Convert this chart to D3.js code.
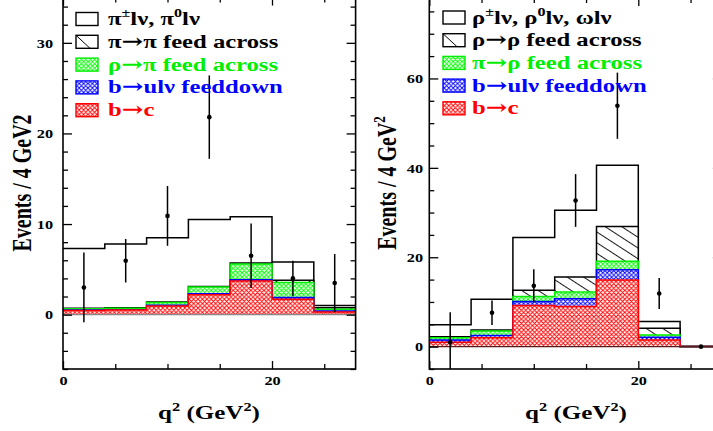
<!DOCTYPE html>
<html><head><meta charset="utf-8">
<script src="https://cdn.jsdelivr.net/npm/d3@7"></script>
<style>
html,body{margin:0;padding:0;background:#fff;}
svg{display:block;}
</style>
</head><body>
<svg id="chart" width="713" height="431"></svg>
<script>
// ---------- DATA ----------
const binEdges = [0, 4, 8, 12, 16, 20, 24, 28];
const binCenters = [2, 6, 10, 14, 18, 22, 26];
const layerKeys = ["bc", "bu", "cross", "feed", "signal"];

// Left panel (pi)
const leftBtoC      = [0.45, 0.5, 0.95, 2.2, 3.7, 1.7, 0.3];
const leftBtoU      = [0.05, 0.05, 0.1, 0.1, 0.15, 0.2, 0.1];
const leftRhoToPi   = [0.15, 0.15, 0.3, 0.75, 1.75, 1.65, 0.2];
const leftPiToPi    = [0.05, 0.05, 0.05, 0.05, 0.1, 0.25, 0.15];
const leftSignal    = [6.6, 7.05, 7.1, 7.4, 5.1, 2.0, 0.25];
const leftData      = [3.0, 5.95, 10.9, 21.8, 6.5, 4.0, 3.5];
const leftErr       = [3.85, 2.4, 3.3, 4.6, 3.55, 1.95, 3.2];
const leftYMajor    = [0, 10, 20, 30];
const leftYMinor    = [-6, -4, -2, 2, 4, 6, 8, 12, 14, 16, 18, 22, 24, 26, 28, 32, 34];

// Right panel (rho)
const rightBtoC     = [1.0, 2.0, 9.2, 9.0, 14.9, 1.5, 0.05];
const rightBtoU     = [0.5, 0.5, 0.9, 1.7, 2.3, 0.6, 0.0];
const rightPiToRho  = [0.5, 1.0, 1.1, 1.5, 1.9, 0.5, 0.0];
const rightRhoToRho = [0.2, 0.2, 1.4, 3.4, 7.8, 1.5, 0.0];
const rightSignal   = [2.7, 6.9, 11.8, 14.9, 13.7, 1.5, 0.0];
const rightData     = [1.0, 7.6, 13.6, 32.7, 53.9, 11.9, 0.0];
const rightErr      = [6.7, 2.75, 3.7, 5.9, 7.4, 3.45, 0.0];
const rightYMajor   = [0, 20, 40, 60];
const rightYMinor   = [-5, 5, 10, 15, 25, 30, 35, 45, 50, 55, 65, 70, 75];

const xMajor = [0, 20];
const xMinor = [5, 10, 15, 25];

const leftLegend = [
  [["π"], ["±", 1], ["lν, π"], ["0", 1], ["lν"]],
  [["π→π feed across"]],
  [["ρ→π feed across"]],
  [["b→ulν feeddown"]],
  [["b→c"]]
];
const rightLegend = [
  [["ρ"], ["±", 1], ["lν, ρ"], ["0", 1], ["lν, ωlν"]],
  [["ρ→ρ feed across"]],
  [["π→ρ feed across"]],
  [["b→ulν feeddown"]],
  [["b→c"]]
];

// ---------- STYLE ----------
const FONT = "'Liberation Serif','Times New Roman',serif";
const ARROW_FONT = "'DejaVu Serif',serif";
const SX = 1.32;
const layerFill = {bc: "url(#hRed)", bu: "url(#hBlue)", cross: "url(#hGreen)", feed: "url(#hFeed)", signal: "#ffffff"};
const layerStroke = {bc: "#ff0000", bu: "#0000ff", cross: "#00ee00", feed: "#000000", signal: "#000000"};
const legendOrder = ["signal", "feed", "cross", "bu", "bc"];
const legendColor = {signal: "#000", feed: "#000", cross: "#00ee00", bu: "#0000ff", bc: "#ff0000"};

const svg = d3.select("#chart");
const defs = svg.append("defs");

function crossHatch(id, color) {
  const p = defs.append("pattern").attr("id", id).attr("patternUnits", "userSpaceOnUse")
    .attr("width", 4.4).attr("height", 4.4);
  p.append("rect").attr("width", 4.4).attr("height", 4.4).attr("fill", "#fff");
  p.append("path").attr("d", "M0,0L4.4,4.4M4.4,0L0,4.4M-1,1.1L1.1,-1M3.3,5.4L5.4,3.3M-1,3.3L1.1,5.4M3.3,-1L5.4,1.1")
    .attr("stroke", color).attr("stroke-width", 1.0).attr("fill", "none");
}
crossHatch("hRed", "#ff0000");
crossHatch("hBlue", "#0000ff");
crossHatch("hGreen", "#00ff00");
{
  const p = defs.append("pattern").attr("id", "hFeed").attr("patternUnits", "userSpaceOnUse")
    .attr("width", 20).attr("height", 9).attr("patternTransform", "rotate(33)");
  p.append("rect").attr("width", 20).attr("height", 9).attr("fill", "#fff");
  p.append("line").attr("x1", 0).attr("x2", 20).attr("y1", 4.5).attr("y2", 4.5)
    .attr("stroke", "#000").attr("stroke-width", 0.9);
}

function addText(parent, str, opt) {
  const t = parent.append("text")
    .attr("font-family", FONT).attr("font-weight", "bold")
    .attr("font-size", opt.size).attr("fill", opt.color || "#000")
    .attr("text-anchor", opt.anchor || "start")
    .attr("transform", `translate(${opt.x},${opt.y}) scale(${opt.sx || SX},1)` + (opt.rot ? ` rotate(${opt.rot})` : ""));
  const parts = Array.isArray(str) ? str : [[str]];
  let up = false;
  parts.forEach(([s, sup]) => {
    if (sup) {
      const ts = t.append("tspan").text(s).attr("font-size", opt.size * 0.65);
      if (!up) { ts.attr("dy", -opt.size * 0.4); up = true; }
      return;
    }
    const pieces = s.split(/(→)/).filter(p => p.length);
    pieces.forEach((p, k) => {
      const ts = t.append("tspan").text(p);
      if (p === "→") ts.attr("font-family", ARROW_FONT).attr("font-size", opt.size * 1.05);
      if (k === 0 && up) { ts.attr("dy", opt.size * 0.4); up = false; }
    });
  });
  return t;
}

function panel(cfg) {
  const g = svg.append("g");
  const x = d3.scaleLinear().domain([0, 28]).range([cfg.x0, cfg.x0 + 28 * 10.45]);
  const y = d3.scaleLinear().domain(cfg.yDom).range([369, cfg.yTop]);
  const [xa, xb] = x.range();
  const clipId = "clip" + cfg.id;
  defs.append("clipPath").attr("id", clipId).append("rect")
    .attr("x", xa).attr("y", cfg.yTop).attr("width", xb - xa).attr("height", 369 - cfg.yTop);
  const plot = g.append("g").attr("clip-path", `url(#${clipId})`);

  const rows = binCenters.map((c, i) => ({
    bc: cfg.bc[i], bu: cfg.bu[i], cross: cfg.cross[i], feed: cfg.feed[i], signal: cfg.signal[i]
  }));
  const stacked = d3.stack().keys(layerKeys)(rows);
  const area = d3.area().curve(d3.curveStepAfter).x(d => x(d[0])).y0(y(0)).y1(d => y(d[1]));
  const line = d3.line().curve(d3.curveStepAfter).x(d => x(d[0])).y(d => y(d[1]));
  stacked.slice().reverse().forEach(layer => {
    const tops = layer.map(d => d[1]);
    const pts = binEdges.map((e, i) => [e, tops[Math.min(i, tops.length - 1)]]);
    plot.append("path").attr("d", area(pts)).attr("fill", layerFill[layer.key]).attr("stroke", "none");
    plot.append("path").attr("d", line(pts)).attr("fill", "none")
      .attr("stroke", layerStroke[layer.key]).attr("stroke-width", 1.5);
  });
  // zero line
  plot.append("line").attr("x1", xa).attr("x2", xb).attr("y1", y(0)).attr("y2", y(0))
    .attr("stroke", cfg.zeroColor).attr("stroke-width", 1.3);

  // data points
  binCenters.forEach((c, i) => {
    const v = cfg.data[i], e = cfg.err[i];
    if (e > 0) plot.append("line").attr("x1", x(c)).attr("x2", x(c)).attr("y1", y(v - e)).attr("y2", y(v + e))
      .attr("stroke", "#000").attr("stroke-width", 1.5);
    plot.append("circle").attr("cx", x(c)).attr("cy", y(v)).attr("r", 2.3).attr("fill", "#000");
  });

  // axes
  const clean = a => { a.select(".domain").remove(); a.selectAll("line").attr("stroke", "#000").attr("stroke-width", 1.3); };
  g.append("g").attr("transform", `translate(${xa},0)`).call(d3.axisRight(y).tickValues(cfg.yMajor).tickSize(9).tickFormat("")).call(clean);
  g.append("g").attr("transform", `translate(${xa},0)`).call(d3.axisRight(y).tickValues(cfg.yMinor).tickSize(5).tickFormat("")).call(clean);
  g.append("g").attr("transform", `translate(${xb},0)`).call(d3.axisLeft(y).tickValues(cfg.yMajor).tickSize(9).tickFormat("")).call(clean);
  g.append("g").attr("transform", `translate(${xb},0)`).call(d3.axisLeft(y).tickValues(cfg.yMinor).tickSize(5).tickFormat("")).call(clean);
  g.append("g").attr("transform", `translate(0,369)`).call(d3.axisTop(x).tickValues(xMajor).tickSize(8).tickFormat("")).call(clean);
  g.append("g").attr("transform", `translate(0,369)`).call(d3.axisTop(x).tickValues(xMinor).tickSize(5).tickFormat("")).call(clean);
  g.append("g").attr("transform", `translate(0,${cfg.yTop})`).call(d3.axisBottom(x).tickValues(xMajor).tickSize(8).tickFormat("")).call(clean);
  g.append("g").attr("transform", `translate(0,${cfg.yTop})`).call(d3.axisBottom(x).tickValues(xMinor).tickSize(5).tickFormat("")).call(clean);

  // tick labels
  const yl = g.append("g").attr("transform", `translate(${xa},0)`)
    .call(d3.axisLeft(y).tickValues(cfg.yMajor).tickSize(0).tickPadding(cfg.yPad).tickFormat(d3.format("d")));
  yl.select(".domain").remove();
  yl.selectAll("text").attr("font-family", FONT).attr("font-weight", "bold").attr("font-size", 13)
    .attr("fill", "#000").attr("transform", "scale(1.25,1)");
  const xl = g.append("g").attr("transform", `translate(0,369)`)
    .call(d3.axisBottom(x).tickValues(xMajor).tickSize(0).tickPadding(7).tickFormat(d3.format("d")));
  xl.select(".domain").remove();
  xl.selectAll("text").attr("font-family", FONT).attr("font-weight", "bold").attr("font-size", 13)
    .attr("fill", "#000").attr("transform", "scale(1.25,1)");

  // frame
  g.append("rect").attr("x", xa).attr("y", cfg.yTop).attr("width", xb - xa).attr("height", 369 - cfg.yTop)
    .attr("fill", "none").attr("stroke", "#000").attr("stroke-width", 1.6);

  // titles
  addText(g, [["q"], ["2", 1], [" (GeV"], ["2", 1], [")"]], {x: cfg.xTitleX, y: 419, size: 19, anchor: "middle"});
  addText(g, cfg.yTitle, {x: cfg.yTitleX, y: 183, size: 20, anchor: "middle", rot: -90});

  // legend
  cfg.legend.forEach((parts, i) => {
    const key = legendOrder[i];
    const cy = cfg.legY + i * cfg.legStep;
    g.append("rect").attr("x", cfg.legBoxX).attr("y", cy - 6.5).attr("width", 22).attr("height", 13)
      .attr("fill", key === "feed" || key === "signal" ? "#fff" : layerFill[key])
      .attr("stroke", legendColor[key]).attr("stroke-width", 1.4);
    if (key === "feed") g.append("line").attr("x1", cfg.legBoxX).attr("y1", cy - 6.5)
      .attr("x2", cfg.legBoxX + 14).attr("y2", cy + 6.5).attr("stroke", "#000").attr("stroke-width", 1);
    addText(g, parts, {x: cfg.legTextX, y: cy + 6, size: 19, color: legendColor[key], sx: 1.3});
  });
}

panel({
  id: "L", x0: 63, yDom: [-6, 35], yTop: 369 - 41 * 9.06,
  bc: leftBtoC, bu: leftBtoU, cross: leftRhoToPi, feed: leftPiToPi, signal: leftSignal,
  data: leftData, err: leftErr, yMajor: leftYMajor, yMinor: leftYMinor, yPad: 8,
  zeroColor: "#888", xTitleX: 209, yTitleX: 31, yTitle: [["Events / 4 GeV2"]],
  legend: leftLegend, legY: 19, legStep: 22.8, legBoxX: 76, legTextX: 108
});
panel({
  id: "R", x0: 429.3, yDom: [-5, 78], yTop: 369 - 83 * 4.47,
  bc: rightBtoC, bu: rightBtoU, cross: rightPiToRho, feed: rightRhoToRho, signal: rightSignal,
  data: rightData, err: rightErr, yMajor: rightYMajor, yMinor: rightYMinor, yPad: 5,
  zeroColor: "#5a1a1a", xTitleX: 576, yTitleX: 396, yTitle: [["Events / 4 GeV"], ["2", 1]],
  legend: rightLegend, legY: 17.5, legStep: 22.7, legBoxX: 443, legTextX: 472
});
</script>
</body></html>
